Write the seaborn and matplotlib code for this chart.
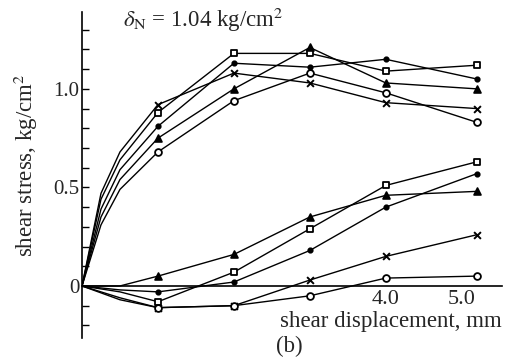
import matplotlib
matplotlib.use("Agg")
import matplotlib.pyplot as plt
import seaborn as sns
import numpy as np

sns.set_theme(style="white")
plt.rcParams['font.family'] = ['Liberation Serif', 'DejaVu Serif']
plt.rcParams['mathtext.fontset'] = 'stix'

# ---- data (shear displacement in mm, shear stress in kg/cm^2) ----
x_mark = [1.0, 2.0, 3.0, 4.0, 5.2]

# upper (peak) group
up_square = [0.88, 1.18, 1.18, 1.09, 1.12]
up_dot = [0.81, 1.13, 1.11, 1.15, 1.05]
up_cross = [0.92, 1.08, 1.03, 0.93, 0.90]
up_tri = [0.75, 1.00, 1.21, 1.03, 1.00]
up_circ = [0.68, 0.94, 1.08, 0.98, 0.83]

# initial rise of upper curves (read at 0, 0.25, 0.5 mm)
x_rise = [0.0, 0.25, 0.5]
rise_square = [0.0, 0.44, 0.64]
rise_dot = [0.0, 0.39, 0.59]
rise_cross = [0.0, 0.47, 0.68]
rise_tri = [0.0, 0.35, 0.54]
rise_circ = [0.0, 0.31, 0.49]

# lower group (dips, then rises)
x_low = [0.0, 0.5, 1.0, 2.0, 3.0, 4.0, 5.2]
low_square = [0.0, -0.03, -0.08, 0.07, 0.29, 0.51, 0.63]
low_dot = [0.0, -0.02, -0.03, 0.02, 0.18, 0.40, 0.57]
low_tri = [0.0, 0.00, 0.05, 0.16, 0.35, 0.46, 0.48]
low_cross = [0.0, -0.06, -0.11, -0.10, 0.03, 0.15, 0.26]
low_circ = [0.0, -0.07, -0.11, -0.10, -0.05, 0.04, 0.05]

y_ticks = [-0.2, -0.1, 0.0, 0.1, 0.2, 0.3, 0.4, 0.5, 0.6, 0.7, 0.8, 0.9, 1.0,
           1.1, 1.2, 1.3]
y_ticklabels = {0.0: "0", 0.5: "0.5", 1.0: "1.0"}
x_ticks = [4.0, 5.0]
x_ticklabels = ["4.0", "5.0"]

fig = plt.figure(figsize=(5.18, 3.6), dpi=100)
ax = fig.add_axes([82 / 518, 22 / 360, 420 / 518, 326 / 360])

styles = {
    "square": dict(marker="s", facecolor="white"),
    "dot": dict(marker="o", facecolor="black", s=10),
    "cross": dict(marker="x", facecolor="black"),
    "tri": dict(marker="^", facecolor="black"),
    "circ": dict(marker="o", facecolor="white"),
}

def draw(xl, yl, xm, ym, key):
    sns.lineplot(x=xl, y=yl, ax=ax, color="black", linewidth=1.0, sort=False,
                 estimator=None)
    st = dict(styles[key])
    size = st.pop("s", 24)
    if st["marker"] == "x":
        sns.scatterplot(x=xm, y=ym, ax=ax, marker="x", color="black", s=24,
                        linewidth=1.4, zorder=5)
    else:
        sns.scatterplot(x=xm, y=ym, ax=ax, marker=st["marker"], s=size,
                        facecolor=st["facecolor"], edgecolor="black",
                        linewidth=1.3, zorder=5)

upper = [("square", rise_square, up_square), ("dot", rise_dot, up_dot),
         ("cross", rise_cross, up_cross), ("tri", rise_tri, up_tri),
         ("circ", rise_circ, up_circ)]
for key, rise, vals in upper:
    draw(x_rise + x_mark, rise + vals, x_mark, vals, key)

lower = [("square", low_square), ("dot", low_dot), ("tri", low_tri),
         ("cross", low_cross), ("circ", low_circ)]
for key, vals in lower:
    draw(x_low, vals, x_low[2:], vals[2:], key)

ax.set_xlim(0, 5.53)
ax.set_ylim(-0.264, 1.39)

for s in ["top", "right"]:
    ax.spines[s].set_visible(False)
ax.spines["bottom"].set_position(("data", 0))
for s in ["left", "bottom"]:
    ax.spines[s].set_color("black")
    ax.spines[s].set_linewidth(1.2)

ax.set_yticks(y_ticks)
ax.set_yticklabels([y_ticklabels.get(round(t, 1), "") for t in y_ticks],
                   fontsize=15)
ax.set_xticks(x_ticks)
ax.set_xticklabels(x_ticklabels, fontsize=16)
ax.tick_params(axis="y", direction="in", length=5, width=1, color="black",
               left=True, pad=2)
ax.tick_params(axis="x", direction="in", length=0, pad=3)

ax.set_xlabel("")
ax.set_ylabel("")
fig.text(26 / 518, 1 - 165 / 360, "shear stress, kg/cm$^2$", rotation=90,
         ha="center", va="center", fontsize=16.5)
fig.text(391 / 518, 1 - 321 / 360, "shear displacement, mm", ha="center",
         va="center", fontsize=16.5)
fig.text(289 / 518, 1 - 346 / 360, "(b)", ha="center", va="center",
         fontsize=16.5)
fig.text(203 / 518, 1 - 20 / 360, r"$\delta_{\rm N}$ = 1.04 kg/cm$^2$",
         ha="center", va="center", fontsize=16.5)

fig.savefig("out.png", dpi=100, facecolor="white")
